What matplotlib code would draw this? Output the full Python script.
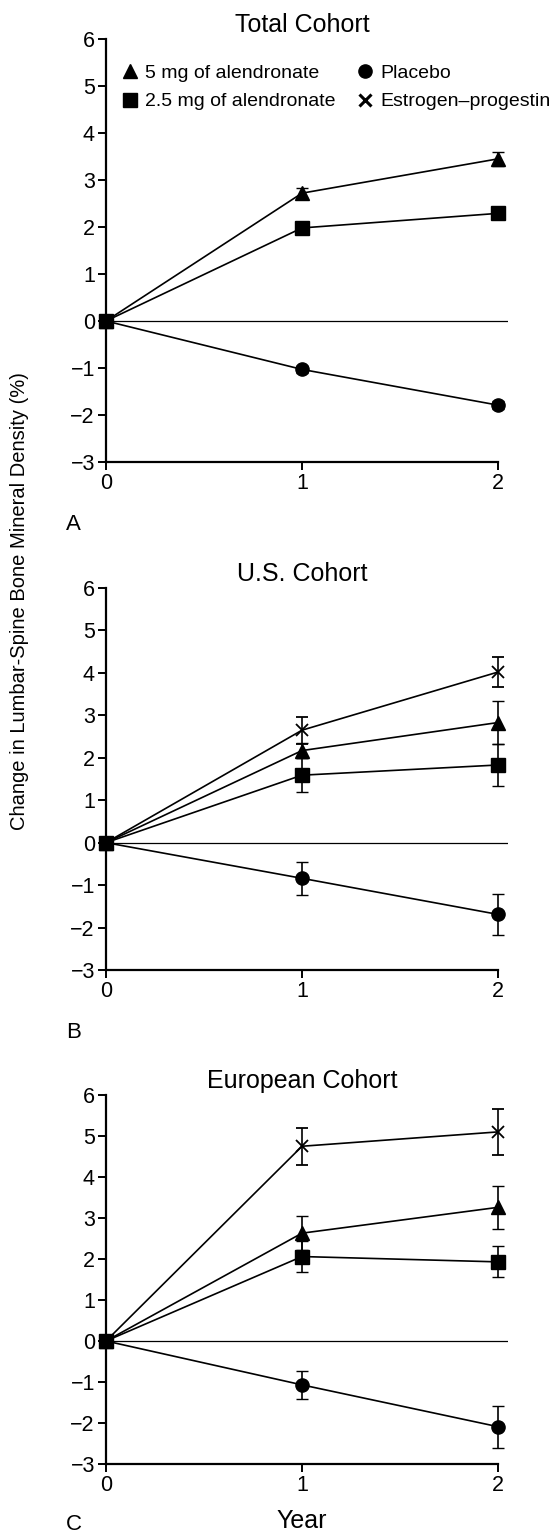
import matplotlib
matplotlib.use("Agg")
import matplotlib.pyplot as plt
from matplotlib.lines import Line2D

plt.rcParams["font.family"] = ["Liberation Sans", "DejaVu Sans"]
plt.rcParams["axes.unicode_minus"] = True

years = [0, 1, 2]

# Total cohort (no estrogen-progestin arm)
total_5mg = [0, 2.72, 3.45]
total_5mg_err = [0, 0.10, 0.15]
total_25mg = [0, 1.98, 2.29]
total_25mg_err = [0, 0.07, 0.07]
total_placebo = [0, -1.03, -1.79]
total_placebo_err = [0, 0.07, 0.08]

# U.S. cohort
us_5mg = [0, 2.17, 2.83]
us_5mg_err = [0, 0.18, 0.50]
us_25mg = [0, 1.59, 1.83]
us_25mg_err = [0, 0.40, 0.49]
us_placebo = [0, -0.84, -1.69]
us_placebo_err = [0, 0.39, 0.48]
us_estrogen = [0, 2.65, 4.02]
us_estrogen_err = [0, 0.32, 0.35]

# European cohort
eu_5mg = [0, 2.63, 3.26]
eu_5mg_err = [0, 0.42, 0.53]
eu_25mg = [0, 2.06, 1.93]
eu_25mg_err = [0, 0.38, 0.38]
eu_placebo = [0, -1.07, -2.09]
eu_placebo_err = [0, 0.35, 0.51]
eu_estrogen = [0, 4.75, 5.10]
eu_estrogen_err = [0, 0.45, 0.56]

labels = ["5 mg of alendronate", "2.5 mg of alendronate", "Placebo", "Estrogen\u2013progestin"]

W, H = 557, 1533
fig = plt.figure(figsize=(W / 100, H / 100), dpi=100)

# panel boxes in pixels: (top, bottom)
boxes = [(39, 462), (588, 970), (1095, 1464)]
x_left, x_unit = 106, 196.0


def make_axes(top, bottom):
    ax = fig.add_axes([x_left / W, 1 - bottom / H, 2.05 * x_unit / W, (bottom - top) / H])
    ax.set_xlim(0, 2.05)
    ax.set_ylim(-3, 6)
    for s in ["top", "right"]:
        ax.spines[s].set_visible(False)
    ax.spines["left"].set_linewidth(1.6)
    ax.spines["bottom"].set_linewidth(1.6)
    ax.spines["bottom"].set_bounds(0, 2)
    ax.set_xticks(years)
    ax.set_yticks(range(-3, 7))
    ax.tick_params(direction="out", length=6, width=1.4, labelsize=15.5, pad=2)
    ax.axhline(0, color="black", lw=0.9, zorder=1)
    return ax


def series(ax, y, err, marker, ms, mew=1.0):
    ax.errorbar(years, y, yerr=err, color="black", lw=1.2, marker=marker, ms=ms,
                mew=mew, mfc="black", mec="black", capsize=4.5, capthick=1.2,
                elinewidth=1.2, clip_on=False, zorder=3)


panels = [
    ("Total Cohort", [(total_placebo, total_placebo_err, "o", 9.5, 1.0),
                      (total_5mg, total_5mg_err, "^", 10.5, 1.0),
                      (total_25mg, total_25mg_err, "s", 9.5, 1.0)]),
    ("U.S. Cohort", [(us_placebo, us_placebo_err, "o", 9.5, 1.0),
                     (us_estrogen, us_estrogen_err, "x", 9, 1.3),
                     (us_5mg, us_5mg_err, "^", 10.5, 1.0),
                     (us_25mg, us_25mg_err, "s", 9.5, 1.0)]),
    ("European Cohort", [(eu_placebo, eu_placebo_err, "o", 9.5, 1.0),
                         (eu_estrogen, eu_estrogen_err, "x", 9, 1.3),
                         (eu_5mg, eu_5mg_err, "^", 10.5, 1.0),
                         (eu_25mg, eu_25mg_err, "s", 9.5, 1.0)]),
]

axes = []
for (top, bottom), (title, data) in zip(boxes, panels):
    ax = make_axes(top, bottom)
    for y, err, m, ms, mew in data:
        series(ax, y, err, m, ms, mew)
    ax.set_title(title, fontsize=18, pad=5, x=1 / 2.05)
    axes.append(ax)

# legend in panel A
handles = [
    Line2D([], [], ls="none", marker="^", ms=10, color="black"),
    Line2D([], [], ls="none", marker="s", ms=9.5, color="black"),
    Line2D([], [], ls="none", marker="o", ms=9.5, color="black"),
    Line2D([], [], ls="none", marker="x", ms=8, mew=2.2, color="black"),
]
axes[0].legend(handles, labels, ncol=2, frameon=False, fontsize=14,
               loc="upper left", bbox_to_anchor=(0.02, 0.958),
               handlelength=0.8, handletextpad=0.4, columnspacing=1.1,
               labelspacing=0.55, borderaxespad=0)

for letter, ypx in zip("ABC", [525, 1032, 1524]):
    fig.text(66 / W, 1 - ypx / H, letter, fontsize=16, ha="left", va="center")

fig.text(302 / W, 1 - 1521 / H, "Year", fontsize=18, ha="center", va="center")
fig.text(20 / W, 1 - 601 / H, "Change in Lumbar-Spine Bone Mineral Density (%)",
         fontsize=14.5, rotation=90, ha="center", va="center")

fig.savefig("out.png", dpi=100, facecolor="white")
